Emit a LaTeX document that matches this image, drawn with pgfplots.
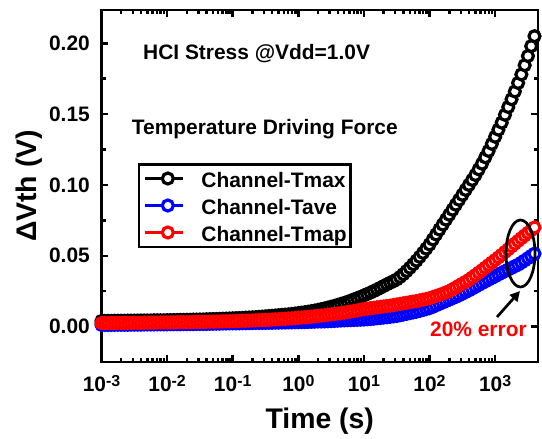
\documentclass[border=0pt]{standalone}
\usepackage{pgfplots}
\pgfplotsset{compat=1.18}
\usepackage{pgfplotstable}
\usepackage{fontspec}
\setmainfont{Liberation Sans}
\usetikzlibrary{arrows.meta}

\pgfplotstableread{
lt v
-3.00 0.0040
-2.95 0.0040
-2.90 0.0040
-2.85 0.0040
-2.80 0.0041
-2.75 0.0041
-2.70 0.0041
-2.65 0.0041
-2.60 0.0042
-2.55 0.0042
-2.50 0.0042
-2.45 0.0042
-2.40 0.0043
-2.35 0.0043
-2.30 0.0043
-2.25 0.0043
-2.20 0.0044
-2.15 0.0044
-2.10 0.0044
-2.05 0.0044
-2.00 0.0045
-1.95 0.0045
-1.90 0.0046
-1.85 0.0046
-1.80 0.0047
-1.75 0.0047
-1.70 0.0048
-1.65 0.0048
-1.60 0.0049
-1.55 0.0049
-1.50 0.0050
-1.45 0.0050
-1.40 0.0051
-1.35 0.0052
-1.30 0.0053
-1.25 0.0053
-1.20 0.0054
-1.15 0.0055
-1.10 0.0056
-1.05 0.0057
-1.00 0.0058
-0.95 0.0059
-0.90 0.0060
-0.85 0.0061
-0.80 0.0063
-0.75 0.0064
-0.70 0.0065
-0.65 0.0066
-0.60 0.0068
-0.55 0.0070
-0.50 0.0072
-0.45 0.0074
-0.40 0.0076
-0.35 0.0078
-0.30 0.0080
-0.25 0.0082
-0.20 0.0084
-0.15 0.0086
-0.10 0.0089
-0.05 0.0092
0.00 0.0095
0.05 0.0098
0.10 0.0101
0.15 0.0105
0.20 0.0109
0.25 0.0113
0.30 0.0118
0.35 0.0123
0.40 0.0128
0.45 0.0134
0.50 0.0140
0.55 0.0146
0.60 0.0153
0.65 0.0160
0.70 0.0167
0.75 0.0175
0.80 0.0183
0.85 0.0192
0.90 0.0201
0.95 0.0210
1.00 0.0220
1.05 0.0230
1.10 0.0240
1.15 0.0251
1.20 0.0262
1.25 0.0274
1.30 0.0286
1.35 0.0298
1.40 0.0310
1.45 0.0320
1.50 0.0333
1.55 0.0350
1.60 0.0370
1.65 0.0392
1.70 0.0415
1.75 0.0440
1.80 0.0465
1.85 0.0492
1.90 0.0520
1.95 0.0550
2.00 0.0580
2.05 0.0615
2.10 0.0650
2.15 0.0685
2.20 0.0720
2.25 0.0755
2.30 0.0790
2.35 0.0825
2.40 0.0860
2.45 0.0895
2.50 0.0930
2.55 0.0965
2.60 0.1000
2.65 0.1035
2.70 0.1070
2.75 0.1110
2.80 0.1150
2.85 0.1195
2.90 0.1240
2.95 0.1290
3.00 0.1340
3.05 0.1390
3.10 0.1440
3.15 0.1495
3.20 0.1550
3.25 0.1605
3.30 0.1660
3.35 0.1720
3.40 0.1780
3.45 0.1845
3.50 0.1910
3.55 0.1980
3.60 0.2050
}\tmax

\pgfplotstableread{
lt v
-3.00 0.0012
-2.95 0.0012
-2.90 0.0012
-2.85 0.0012
-2.80 0.0013
-2.75 0.0013
-2.70 0.0013
-2.65 0.0013
-2.60 0.0013
-2.55 0.0014
-2.50 0.0014
-2.45 0.0014
-2.40 0.0014
-2.35 0.0015
-2.30 0.0015
-2.25 0.0015
-2.20 0.0015
-2.15 0.0016
-2.10 0.0016
-2.05 0.0016
-2.00 0.0016
-1.95 0.0017
-1.90 0.0017
-1.85 0.0017
-1.80 0.0017
-1.75 0.0018
-1.70 0.0018
-1.65 0.0018
-1.60 0.0018
-1.55 0.0019
-1.50 0.0019
-1.45 0.0019
-1.40 0.0019
-1.35 0.0020
-1.30 0.0020
-1.25 0.0021
-1.20 0.0021
-1.15 0.0022
-1.10 0.0022
-1.05 0.0023
-1.00 0.0023
-0.95 0.0023
-0.90 0.0023
-0.85 0.0024
-0.80 0.0024
-0.75 0.0025
-0.70 0.0025
-0.65 0.0026
-0.60 0.0026
-0.55 0.0026
-0.50 0.0026
-0.45 0.0027
-0.40 0.0027
-0.35 0.0028
-0.30 0.0028
-0.25 0.0029
-0.20 0.0029
-0.15 0.0030
-0.10 0.0030
-0.05 0.0031
0.00 0.0031
0.05 0.0032
0.10 0.0032
0.15 0.0033
0.20 0.0034
0.25 0.0035
0.30 0.0036
0.35 0.0036
0.40 0.0037
0.45 0.0038
0.50 0.0039
0.55 0.0040
0.60 0.0042
0.65 0.0043
0.70 0.0044
0.75 0.0045
0.80 0.0046
0.85 0.0047
0.90 0.0048
0.95 0.0049
1.00 0.0050
1.05 0.0052
1.10 0.0054
1.15 0.0056
1.20 0.0059
1.25 0.0061
1.30 0.0064
1.35 0.0066
1.40 0.0069
1.45 0.0072
1.50 0.0075
1.55 0.0080
1.60 0.0085
1.65 0.0090
1.70 0.0095
1.75 0.0100
1.80 0.0105
1.85 0.0111
1.90 0.0117
1.95 0.0124
2.00 0.0130
2.05 0.0140
2.10 0.0150
2.15 0.0160
2.20 0.0170
2.25 0.0180
2.30 0.0190
2.35 0.0200
2.40 0.0210
2.45 0.0220
2.50 0.0232
2.55 0.0244
2.60 0.0255
2.65 0.0268
2.70 0.0281
2.75 0.0294
2.80 0.0307
2.85 0.0319
2.90 0.0331
2.95 0.0343
3.00 0.0355
3.05 0.0368
3.10 0.0380
3.15 0.0391
3.20 0.0403
3.25 0.0414
3.30 0.0426
3.35 0.0437
3.40 0.0452
3.45 0.0467
3.50 0.0483
3.55 0.0499
3.60 0.0515
}\tave

\pgfplotstableread{
lt v
-3.00 0.0025
-2.95 0.0025
-2.90 0.0025
-2.85 0.0025
-2.80 0.0026
-2.75 0.0026
-2.70 0.0026
-2.65 0.0026
-2.60 0.0026
-2.55 0.0027
-2.50 0.0027
-2.45 0.0027
-2.40 0.0027
-2.35 0.0028
-2.30 0.0028
-2.25 0.0028
-2.20 0.0028
-2.15 0.0029
-2.10 0.0029
-2.05 0.0029
-2.00 0.0029
-1.95 0.0030
-1.90 0.0030
-1.85 0.0031
-1.80 0.0031
-1.75 0.0031
-1.70 0.0031
-1.65 0.0032
-1.60 0.0032
-1.55 0.0033
-1.50 0.0033
-1.45 0.0034
-1.40 0.0034
-1.35 0.0035
-1.30 0.0035
-1.25 0.0036
-1.20 0.0036
-1.15 0.0037
-1.10 0.0037
-1.05 0.0038
-1.00 0.0038
-0.95 0.0039
-0.90 0.0040
-0.85 0.0041
-0.80 0.0041
-0.75 0.0042
-0.70 0.0043
-0.65 0.0044
-0.60 0.0045
-0.55 0.0046
-0.50 0.0047
-0.45 0.0048
-0.40 0.0050
-0.35 0.0051
-0.30 0.0052
-0.25 0.0054
-0.20 0.0055
-0.15 0.0057
-0.10 0.0058
-0.05 0.0060
0.00 0.0062
0.05 0.0064
0.10 0.0066
0.15 0.0068
0.20 0.0070
0.25 0.0073
0.30 0.0075
0.35 0.0078
0.40 0.0080
0.45 0.0083
0.50 0.0086
0.55 0.0089
0.60 0.0092
0.65 0.0095
0.70 0.0099
0.75 0.0102
0.80 0.0106
0.85 0.0110
0.90 0.0114
0.95 0.0119
1.00 0.0124
1.05 0.0127
1.10 0.0130
1.15 0.0133
1.20 0.0136
1.25 0.0139
1.30 0.0142
1.35 0.0145
1.40 0.0148
1.45 0.0152
1.50 0.0156
1.55 0.0160
1.60 0.0164
1.65 0.0168
1.70 0.0172
1.75 0.0176
1.80 0.0180
1.85 0.0185
1.90 0.0190
1.95 0.0195
2.00 0.0200
2.05 0.0208
2.10 0.0216
2.15 0.0224
2.20 0.0232
2.25 0.0241
2.30 0.0250
2.35 0.0263
2.40 0.0276
2.45 0.0290
2.50 0.0303
2.55 0.0316
2.60 0.0330
2.65 0.0347
2.70 0.0364
2.75 0.0381
2.80 0.0398
2.85 0.0416
2.90 0.0434
2.95 0.0452
3.00 0.0470
3.05 0.0488
3.10 0.0507
3.15 0.0527
3.20 0.0546
3.25 0.0566
3.30 0.0585
3.35 0.0605
3.40 0.0624
3.45 0.0643
3.50 0.0662
3.55 0.0681
3.60 0.0700
}\tmap

\newcommand{\tl}[1]{10\raisebox{5bp}{\fontsize{16}{16}\selectfont #1}}

\begin{document}
\begin{tikzpicture}
\useasboundingbox (-101.5bp,-77bp) rectangle (440.5bp,362bp);
\begin{axis}[
  at={(0,0)}, anchor=south west, scale only axis,
  width=436.5bp, height=352bp,
  xmode=log, xmin=1e-3, xmax=4500,
  ymin=-0.025, ymax=0.2235,
  clip mode=individual,
  xtick={1e-3,1e-2,1e-1,1,10,100,1000},
  xticklabels={\tl{-3},\tl{-2},\tl{-1},\tl{0},\tl{1},\tl{2},\tl{3}},
  ytick={0,0.05,0.1,0.15,0.2},
  yticklabels={0.00,0.05,0.10,0.15,0.20},
  minor y tick num=1,
  tick align=inside,
  major tick length=7bp, minor tick length=4.5bp,
  tick style={line width=2.5bp, black},
  axis line style={line width=2.7bp},
  tick label style={font=\bfseries\fontsize{21}{25}\selectfont},
  xticklabel style={inner sep=0pt, anchor=north, yshift=-13.5bp},
  yticklabel style={inner sep=0pt, anchor=east, xshift=-11.5bp},
  xlabel={Time (s)}, ylabel={ΔVth (V)},
  label style={font=\bfseries\fontsize{28.5}{30}\selectfont, inner sep=0pt},
  xlabel style={at={(axis description cs:0.5,-0.1875)}, anchor=base},
  ylabel style={at={(axis description cs:-0.150,0.5)}, anchor=base},
  legend cell align=left,
  legend style={at={(0.0836,0.5653)}, anchor=north west, draw=black,
    line width=2.5bp, font=\bfseries\fontsize{21}{25}\selectfont,
    inner xsep=4bp, inner ysep=0.5bp, row sep=-0.5bp,
    nodes={inner sep=0pt, text height=23bp, text depth=4.5bp},
    /tikz/every odd column/.append style={column sep=17bp}},
  legend image code/.code={
    \path (0bp,0bp) -- (38bp,0bp);
    \draw[#1] (8bp,0bp) -- (38bp,0bp);
    \draw[#1] plot coordinates {(23bp,0bp)};
  },
  mk/.style={color=#1, only marks, mark=*, mark size=5.5bp, line width=3.2bp,
    mark options={fill=white}},
]
\addplot[mk=black] table[x expr={10^(\thisrow{lt})}, y=v] {\tmax};
\addlegendentry{Channel-Tmax}
\addplot[mk=blue] table[x expr={10^(\thisrow{lt})}, y=v] {\tave};
\addlegendentry{Channel-Tave}
\addplot[mk=red] table[x expr={10^(\thisrow{lt})}, y=v] {\tmap};
\addlegendentry{Channel-Tmap}

\node[anchor=base west, inner sep=0pt, font=\bfseries\fontsize{21}{25}\selectfont]
  at (rel axis cs:0.0951,0.858) {HCI Stress @Vdd=1.0V};
\node[anchor=base west, inner sep=0pt, font=\bfseries\fontsize{21}{25}\selectfont]
  at (rel axis cs:0.0692,0.6449) {Temperature Driving Force};
\node[anchor=base west, inner sep=0pt, text=red, font=\bfseries\fontsize{21}{25}\selectfont]
  at (rel axis cs:0.7526,0.0719) {20\% error};
\draw[line width=2.7bp] (rel axis cs:0.9599,0.3082) ellipse [x radius=14.5bp, y radius=33.5bp];
\draw[line width=2.7bp, -{Triangle[length=10bp,width=10bp]}]
  (rel axis cs:0.9061,0.1278) -- (rel axis cs:0.9588,0.2017);
\end{axis}
\end{tikzpicture}
\end{document}
